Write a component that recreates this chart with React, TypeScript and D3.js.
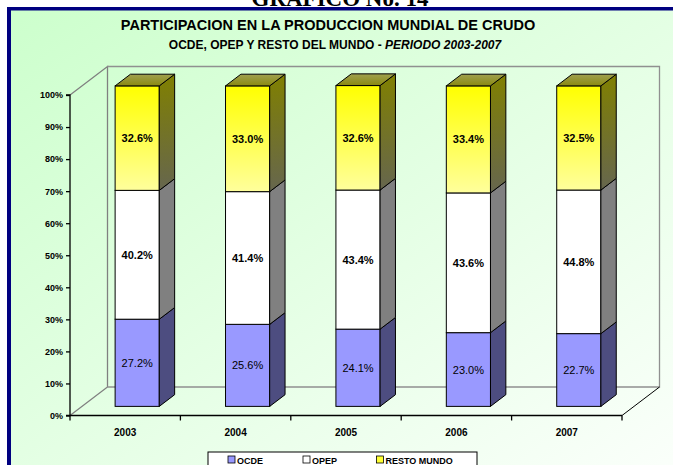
import { useEffect, useRef } from 'react';
import * as d3 from 'd3';

const years = ['2003', '2004', '2005', '2006', '2007'];
const ocde = [27.2, 25.6, 24.1, 23.0, 22.7];
const opep = [40.2, 41.4, 43.4, 43.6, 44.8];
const resto = [32.6, 33.0, 32.6, 33.4, 32.5];
const yTicks = [0, 10, 20, 30, 40, 50, 60, 70, 80, 90, 100];

const series = [
  { key: 'OCDE', values: ocde, front: '#9999ff', side: '#4d4d80', bold: false },
  { key: 'OPEP', values: opep, front: '#ffffff', side: '#808080', bold: true },
  { key: 'RESTO MUNDO', values: resto, front: 'url(#restoFront)', side: 'url(#restoSide)', bold: true },
];

const W = 673;
const H = 465;

const App = () => {
  const svgRef = useRef(null);

  useEffect(() => {
    const svg = d3.select(svgRef.current);
    svg.selectAll('*').remove();

    const defs = svg.append('defs');
    const bg = defs.append('linearGradient').attr('id', 'bg')
      .attr('x1', 0).attr('y1', 0).attr('x2', 1).attr('y2', 1);
    bg.append('stop').attr('offset', '0%').attr('stop-color', '#ccffcc');
    bg.append('stop').attr('offset', '100%').attr('stop-color', '#fbfffb');

    const rf = defs.append('linearGradient').attr('id', 'restoFront')
      .attr('x1', 0).attr('y1', 0).attr('x2', 0).attr('y2', 1);
    rf.append('stop').attr('offset', '0%').attr('stop-color', '#ffff00');
    rf.append('stop').attr('offset', '100%').attr('stop-color', '#ffff9c');

    const rs = defs.append('linearGradient').attr('id', 'restoSide')
      .attr('x1', 0).attr('y1', 0).attr('x2', 0).attr('y2', 1);
    rs.append('stop').attr('offset', '0%').attr('stop-color', '#808000');
    rs.append('stop').attr('offset', '100%').attr('stop-color', '#66664e');

    const rt = defs.append('linearGradient').attr('id', 'restoTop')
      .attr('x1', 0).attr('y1', 0).attr('x2', 0).attr('y2', 1);
    rt.append('stop').attr('offset', '0%').attr('stop-color', '#a0a050');
    rt.append('stop').attr('offset', '100%').attr('stop-color', '#8a8a10');

    // page + frame
    svg.append('rect').attr('width', W).attr('height', H).attr('fill', '#ffffff');
    svg.append('rect').attr('x', 7).attr('y', 7).attr('width', W).attr('height', H)
      .attr('fill', 'url(#bg)');
    svg.append('rect').attr('x', 7).attr('y', 7).attr('width', W).attr('height', 3.5).attr('fill', '#000080');
    svg.append('rect').attr('x', 7).attr('y', 7).attr('width', 4).attr('height', H).attr('fill', '#000080');

    // heading of the page, cut by the top edge as in the source
    svg.append('text')
      .attr('x', 340).attr('y', 6)
      .attr('text-anchor', 'middle')
      .style('font-family', '"Liberation Serif", "DejaVu Serif", serif')
      .style('font-weight', 'bold')
      .style('font-size', '23px')
      .text('GRAFICO No. 14');

    // titles
    svg.append('text')
      .attr('x', 328).attr('y', 30)
      .attr('text-anchor', 'middle')
      .style('font-family', '"Liberation Sans", Arial, sans-serif')
      .style('font-weight', 'bold')
      .style('font-size', '14.5px')
      .text('PARTICIPACION EN LA PRODUCCION MUNDIAL DE CRUDO');

    const sub = svg.append('text')
      .attr('x', 335).attr('y', 49)
      .attr('text-anchor', 'middle')
      .style('font-family', '"Liberation Sans", Arial, sans-serif')
      .style('font-weight', 'bold')
      .style('font-size', '12px');
    sub.append('tspan').text('OCDE, OPEP Y RESTO DEL MUNDO - ');
    sub.append('tspan').style('font-style', 'italic').text('PERIODO 2003-2007');

    // scales
    const x0 = 70, x1 = 622;
    const yb = 415.5, yt = 95;
    const dx = 37.5, dy = -28.5;
    const xScale = d3.scaleBand().domain(years).range([x0, x1]).padding(0);
    const yScale = d3.scaleLinear().domain([0, 100]).range([yb, yt]);

    // walls
    const wall = svg.append('g');
    wall.append('path')
      .attr('d', `M${x0},${yt}L${x0 + dx},${yt + dy}L${x0 + dx},${yb + dy}L${x0},${yb}`)
      .attr('fill', 'none').attr('stroke', '#808080').attr('stroke-width', 1.3);
    wall.append('path')
      .attr('d', `M${x0 + dx},${yt + dy}L${x1 + dx},${yt + dy}L${x1 + dx},${yb + dy}L${x0 + dx},${yb + dy}`)
      .attr('fill', 'none').attr('stroke', '#909090').attr('stroke-width', 1.3);
    wall.append('path')
      .attr('d', `M${x1},${yb}L${x1 + dx},${yb + dy}`)
      .attr('fill', 'none').attr('stroke', '#000').attr('stroke-width', 1);

    // bars
    const band = xScale.bandwidth();
    const barW = band * 0.4;
    const ox = dx * 0.32, oy = dy * 0.32;
    const bdx = dx * 0.41, bdy = dy * 0.41;

    const bars = svg.append('g');
    years.forEach((yr, i) => {
      const bx = xScale(yr) + (band - barW) / 2 + ox;
      let cum = 0;
      series.forEach((s, si) => {
        const v = s.values[i];
        const top = yScale(cum + v) + oy;
        const bot = yScale(cum) + oy;
        cum += v;
        bars.append('rect')
          .attr('x', bx).attr('y', top).attr('width', barW).attr('height', bot - top)
          .attr('fill', s.front).attr('stroke', '#000').attr('stroke-width', 1);
        bars.append('path')
          .attr('d', `M${bx + barW},${top}L${bx + barW + bdx},${top + bdy}L${bx + barW + bdx},${bot + bdy}L${bx + barW},${bot}Z`)
          .attr('fill', s.side).attr('stroke', '#000').attr('stroke-width', 1);
        if (si === series.length - 1) {
          bars.append('path')
            .attr('d', `M${bx},${top}L${bx + bdx},${top + bdy}L${bx + barW + bdx},${top + bdy}L${bx + barW},${top}Z`)
            .attr('fill', 'url(#restoTop)').attr('stroke', '#000').attr('stroke-width', 1);
        }
        bars.append('text')
          .attr('x', bx + barW / 2).attr('y', (top + bot) / 2 + 4)
          .attr('text-anchor', 'middle')
          .style('font-family', '"Liberation Sans", Arial, sans-serif')
          .style('font-weight', s.bold ? 'bold' : 'normal')
          .style('font-size', '11px')
          .style('fill', '#000')
          .text(`${v.toFixed(1)}%`);
      });
    });

    // axes
    const yAxis = svg.append('g').attr('transform', `translate(${x0},0)`)
      .call(d3.axisLeft(yScale).tickValues(yTicks).tickSize(4).tickPadding(3).tickFormat(d => `${d}%`));
    yAxis.select('.domain').attr('stroke', '#000').attr('stroke-width', 1.3).attr('d', `M-4,${yt}H0V${yb}H-4`);
    yAxis.selectAll('.tick line').attr('stroke', '#000').attr('stroke-width', 1.3);
    yAxis.selectAll('text')
      .style('font-family', '"Liberation Sans", Arial, sans-serif')
      .style('font-weight', 'bold').style('font-size', '9px').style('fill', '#000');

    const xAxis = svg.append('g').attr('transform', `translate(0,${yb})`);
    xAxis.append('line').attr('x1', x0).attr('x2', x1).attr('y1', 0).attr('y2', 0)
      .attr('stroke', '#000').attr('stroke-width', 1.3);
    [...years.map(y => xScale(y)), x1].forEach(t => {
      xAxis.append('line').attr('x1', t).attr('x2', t).attr('y1', 0).attr('y2', 5)
        .attr('stroke', '#000').attr('stroke-width', 1.3);
    });
    years.forEach(yr => {
      xAxis.append('text')
        .attr('x', xScale(yr) + band / 2).attr('y', 20)
        .attr('text-anchor', 'middle')
        .style('font-family', '"Liberation Sans", Arial, sans-serif')
        .style('font-weight', 'bold').style('font-size', '10px')
        .text(yr);
    });

    // legend
    const legend = svg.append('g').attr('transform', 'translate(208,452)');
    legend.append('rect').attr('width', 269).attr('height', 30)
      .attr('fill', '#ffffff').attr('stroke', '#000').attr('stroke-width', 1);
    const legendX = [20, 95, 168.5];
    series.forEach((s, i) => {
      const item = legend.append('g').attr('transform', `translate(${legendX[i]},4)`);
      item.append('rect').attr('width', 7).attr('height', 7)
        .attr('fill', s.key === 'RESTO MUNDO' ? '#ffff33' : s.front)
        .attr('stroke', '#000').attr('stroke-width', 0.8);
      item.append('text').attr('x', 9).attr('y', 7.5)
        .style('font-family', '"Liberation Sans", Arial, sans-serif')
        .style('font-weight', 'bold').style('font-size', '9px')
        .text(s.key);
    });
  }, []);

  return (
    <svg ref={svgRef} width={W} height={H}
      style={{ position: 'absolute', left: 0, top: 0, display: 'block' }} />
  );
};

export default App;
